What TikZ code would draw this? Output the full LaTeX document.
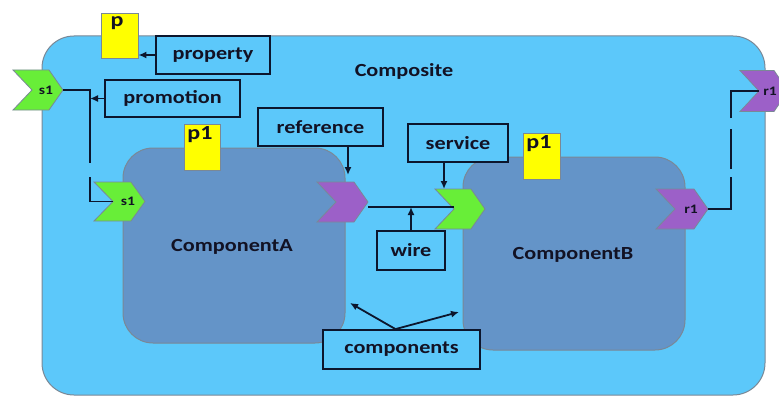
\documentclass[tikz,border=0pt]{standalone}
\usepackage{fontspec}
\setmainfont{Carlito}
\usetikzlibrary{arrows.meta,calc}
\definecolor{compbg}{RGB}{92,200,250}
\definecolor{compfill}{RGB}{100,148,200}
\definecolor{edgegray}{RGB}{122,136,150}
\definecolor{linenavy}{RGB}{12,22,45}
\definecolor{txt}{RGB}{18,18,36}
\definecolor{ylw}{RGB}{255,255,0}
\definecolor{grn}{RGB}{104,238,56}
\definecolor{prp}{RGB}{156,96,200}
\newcommand{\sx}[1]{\scalebox{1.2}[1]{#1}}
\newcommand{\mychev}[8]{%
  \node[chevbox, minimum width=#3, minimum height=#4] (#1) at (#2) {};
  \filldraw[fill=#5, draw=edgegray, line width=0.8pt] (#1.north west) -- ([xshift=-14pt]#1.north east) -- (#1.east) -- ([xshift=-14pt]#1.south east) -- (#1.south west) -- ([xshift=19pt]#1.west) -- cycle;
  \node[chevtext] (#7) at ([xshift=#8]#1.east) {\sx{#6}};
}
\begin{document}
\begin{tikzpicture}[x=1pt,y=-1pt,
  composite/.style={draw=edgegray, line width=1pt, fill=compbg, rounded corners=32pt, inner sep=0pt},
  component/.style={draw=edgegray, line width=1pt, fill=compfill, rounded corners=30pt, inner sep=0pt},
  ybox/.style={draw=edgegray, line width=0.9pt, fill=ylw, inner sep=0pt},
  lbox/.style={draw=linenavy, line width=1.8pt, fill=compbg, inner sep=0pt, text=txt, font=\bfseries\fontsize{18.5}{20}\selectfont},
  bigtext/.style={text=txt, font=\bfseries\fontsize{18.5}{20}\selectfont, inner sep=0pt},
  ptext/.style={text=txt, font=\bfseries\fontsize{20}{22}\selectfont, inner sep=0pt},
  chevbox/.style={inner sep=0pt, outer sep=0pt},
  chevtext/.style={text=txt, font=\bfseries\fontsize{13}{14}\selectfont, inner sep=0pt},
  arr/.style={draw=linenavy, line width=1.8pt, -{Latex[length=8pt,width=7pt]}},
  wireline/.style={draw=linenavy, line width=1.8pt},
  dashline/.style={draw=linenavy, line width=1.8pt},
]
\useasboundingbox (0,0) rectangle (779,396);
% composite
\node[composite, minimum width=723pt, minimum height=359pt] (comp) at (403.5,215.5) {};
\node[bigtext] (complbl) at (404,71) {\sx{Composite}};
% components
\node[component, minimum width=222pt, minimum height=195pt] (compA) at (234,245.5) {};
\node[bigtext] (compAlbl) at (232,247) {\sx{ComponentA}};
\node[component, minimum width=222pt, minimum height=193pt] (compB) at (574,253.5) {};
\node[bigtext] (compBlbl) at (573,255) {\sx{ComponentB}};
% yellow property boxes
\node[ybox, minimum width=37pt, minimum height=45pt] (p) at (119.5,35.5) {};
\node[ptext] (ptxt) at (117,23) {\sx{p}};
\node[ybox, minimum width=36pt, minimum height=46pt] (p1A) at (202,147) {};
\node[ptext] (p1Atxt) at (200,135) {\sx{p1}};
\node[ybox, minimum width=37pt, minimum height=46pt] (p1B) at (541.5,156) {};
\node[ptext] (p1Btxt) at (539,144) {\sx{p1}};
% chevrons
\mychev{s1o}{38,90}{50pt}{40pt}{grn}{s1}{s1otxt}{-17pt}
\mychev{s1i}{119.5,201.5}{51pt}{39pt}{grn}{s1}{s1itxt}{-17pt}
\mychev{refA}{342.5,202}{51pt}{40pt}{prp}{}{refAtxt}{-17pt}
\mychev{svB}{460,209}{50pt}{40pt}{grn}{}{svBtxt}{-17pt}
\mychev{r1B}{682,209}{52pt}{40pt}{prp}{r1}{r1Btxt}{-17pt}
\mychev{r1o}{764,91}{48pt}{41pt}{prp}{r1}{r1otxt}{-18pt}
% label boxes
\node[lbox, minimum width=114pt, minimum height=38pt] (property) at (213,55) {\sx{property}};
\node[lbox, minimum width=135pt, minimum height=37pt] (promotion) at (172.5,98.5) {\sx{promotion}};
\node[lbox, minimum width=125pt, minimum height=38pt] (reference) at (320.5,127) {\sx{reference}};
\node[lbox, minimum width=100pt, minimum height=38pt] (service) at (458,143) {\sx{service}};
\node[lbox, minimum width=68pt, minimum height=39pt] (wire) at (411,250.5) {\sx{wire}};
\node[lbox, minimum width=157pt, minimum height=39pt] (components) at (401.5,349.5) {\sx{components}};
% connectors
\coordinate (j1) at (90,90);
\coordinate (j2) at (731,209);
\coordinate (ca) at (350,303);
\coordinate (cb) at (459,312);
\coordinate (s1in) at ([xshift=19pt]s1i.west);
\coordinate (r1on) at ([xshift=19pt]r1o.west);
\coordinate (svBn) at ([xshift=19pt]svB.west);
\draw[dashline, dash pattern=on 100pt off 14pt] (s1o.east) -- (j1) -- (j1 |- s1i) -- (s1in);
\draw[dashline, dash pattern=on 55pt off 8pt on 40pt off 11pt] (r1B.east) -- (j2) -- (j2 |- r1o) -- (r1on);
\draw[arr] (property.west) -- (property.west -| p.east);
\draw[arr] (promotion.west) -- (promotion.west -| j1);
\draw[arr, shorten >=7pt] ([xshift=27.5pt]reference.south) -- ([xshift=27.5pt]reference.south |- refA.north);
\draw[arr] ([xshift=-14pt]service.south) -- ([xshift=-14pt]service.south |- svB.north);
\coordinate (wstart) at ([yshift=-5pt]refA.east);
\draw[wireline] (wstart) -- (wstart -| svBn);
\draw[arr] (wire.north) -- (wire.north |- wstart);
\draw[arr] ([xshift=-6pt]components.north) -- (ca);
\draw[arr] ([xshift=-6pt]components.north) -- (cb);
\end{tikzpicture}
\end{document}
